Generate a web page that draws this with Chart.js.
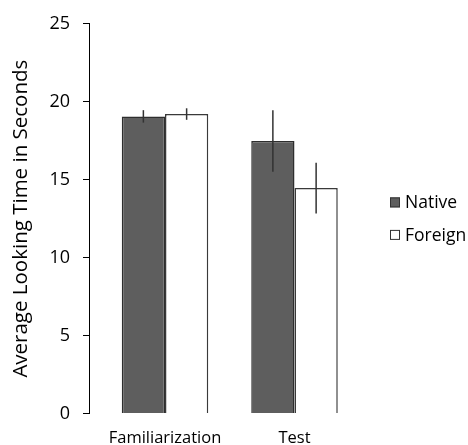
<!DOCTYPE html>
<html>
<head>
<meta charset="utf-8">
<script src="https://cdn.jsdelivr.net/npm/chart.js@4.4.1/dist/chart.umd.min.js"></script>
<style>
  html, body { margin: 0; padding: 0; background: #fff; }
  #wrap { width: 468px; height: 445px; }
</style>
</head>
<body>
<div id="wrap"><canvas id="chart" width="468" height="445"></canvas></div>
<script>
const categories = ['Familiarization', 'Test'];
const seriesNames = ['Native', 'Foreign'];
const nativeValues = [19.06, 17.48];
const foreignValues = [19.21, 14.46];
const nativeErrors = [0.40, 1.97];
const foreignErrors = [0.37, 1.63];
const yTicks = [0, 5, 10, 15, 20, 25];

const FONT = '"Open Sans"';
const WEIGHT = '500';

// error bars, drawn from the y scale
const errorBars = {
  id: 'errorBars',
  afterDatasetsDraw(chart) {
    const ctx = chart.ctx;
    const y = chart.scales.y;
    ctx.save();
    ctx.strokeStyle = '#333';
    ctx.lineWidth = 1.5;
    chart.data.datasets.forEach((ds, i) => {
      const meta = chart.getDatasetMeta(i);
      meta.data.forEach((bar, j) => {
        const v = ds.data[j], e = ds.errors[j];
        ctx.beginPath();
        ctx.moveTo(bar.x, y.getPixelForValue(v + e));
        ctx.lineTo(bar.x, y.getPixelForValue(v - e));
        ctx.stroke();
      });
    });
    ctx.restore();
  }
};

// y axis sits a little left of the plot area
const shiftAxis = {
  id: 'shiftAxis',
  afterLayout(chart) {
    const y = chart.scales.y;
    y.left -= 11.25;
    y.right -= 11.25;
  }
};

// legend on the right, running off the edge like the original
const sideLegend = {
  id: 'sideLegend',
  afterDraw(chart) {
    const ctx = chart.ctx;
    const area = chart.chartArea;
    const mid = (area.top + area.bottom) / 2;
    const x = area.right + 30.75;
    ctx.save();
    ctx.font = WEIGHT + ' 17.5px ' + FONT;
    ctx.textBaseline = 'middle';
    chart.data.datasets.forEach((ds, i) => {
      const cy = mid + (i === 0 ? -16.25 : 16.25);
      ctx.fillStyle = ds.backgroundColor;
      ctx.fillRect(x, cy - 5, 10, 10);
      ctx.strokeStyle = '#333';
      ctx.lineWidth = 1;
      ctx.strokeRect(x + 0.5, cy - 4.5, 9, 9);
      ctx.fillStyle = '#000';
      ctx.fillText(ds.label, x + 15, cy + 1);
    });
    ctx.restore();
  }
};

new Chart(document.getElementById('chart'), {
  type: 'bar',
  data: {
    labels: categories,
    datasets: [
      {
        label: seriesNames[0],
        data: nativeValues,
        errors: nativeErrors,
        backgroundColor: '#5e5e5e',
        borderColor: '#2e2e2e',
        borderWidth: 1.5,
      },
      {
        label: seriesNames[1],
        data: foreignValues,
        errors: foreignErrors,
        backgroundColor: '#ffffff',
        borderColor: '#3a3a3a',
        borderWidth: 1.5,
      },
    ],
  },
  options: {
    responsive: false,
    animation: false,
    barPercentage: 1,
    categoryPercentage: 0.668,
    layout: { padding: { left: 4.25, right: 108.75, top: 18.5, bottom: 0 } },
    plugins: {
      legend: { display: false },
      tooltip: { enabled: false },
    },
    scales: {
      x: {
        grid: { display: false },
        border: { display: false },
        ticks: { color: '#000', font: { family: FONT, size: 16.5, weight: WEIGHT }, padding: 7, maxRotation: 0 },
        afterFit: (s) => { s.height = 31.5; },
      },
      y: {
        min: 0,
        max: 25,
        afterBuildTicks: (s) => { s.ticks = yTicks.map(v => ({ value: v })); },
        grid: { drawOnChartArea: false, drawTicks: true, tickLength: 6, color: '#000', lineWidth: 1 },
        border: { display: true, color: '#000', width: 1 },
        ticks: { color: '#000', font: { family: FONT, size: 18, weight: WEIGHT }, padding: 13 },
        title: {
          display: true,
          text: 'Average Looking Time in Seconds',
          color: '#000',
          font: { family: FONT, size: 20.5, weight: WEIGHT },
          padding: { top: 16, bottom: 0 },
        },
        afterFit: (s) => { s.width = 96; },
      },
    },
  },
  plugins: [errorBars, shiftAxis, sideLegend],
});
</script>
</body>
</html>
